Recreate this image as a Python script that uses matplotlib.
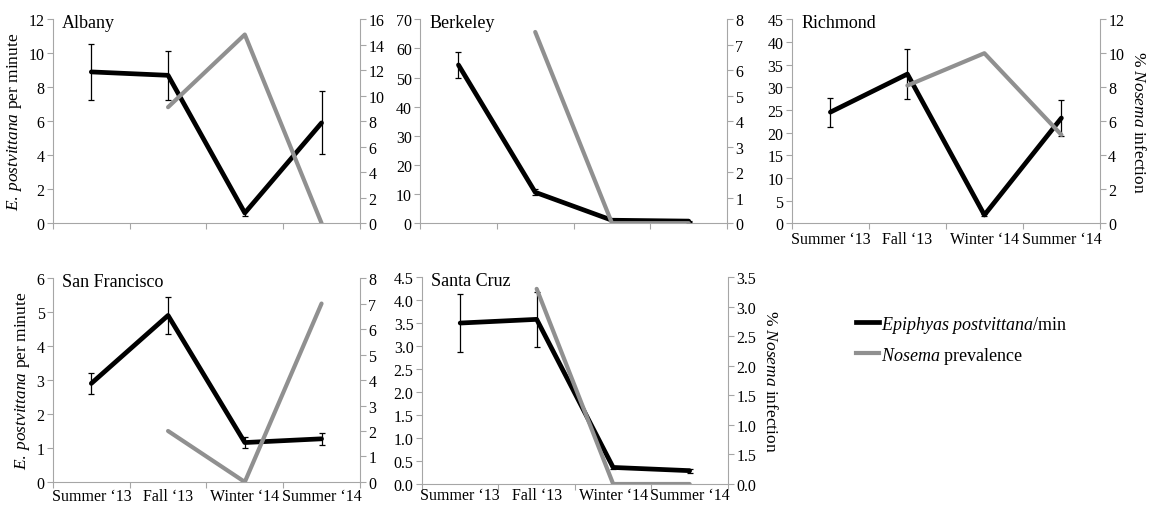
import numpy as np
import matplotlib.pyplot as plt
from matplotlib.lines import Line2D

plt.rcParams['font.family'] = ['Liberation Serif', 'DejaVu Serif']
plt.rcParams['mathtext.fontset'] = 'custom'
plt.rcParams['mathtext.rm'] = 'Liberation Serif'
plt.rcParams['mathtext.it'] = 'Liberation Serif:italic'
plt.rcParams['font.size'] = 11

seasons = ['Summer \u201813', 'Fall \u201813', 'Winter \u201814', 'Summer \u201814']

# E. postvittana per minute (mean, s.e.) and % Nosema infection per site
albany_rate = [8.9, 8.7, 0.6, 5.9]
albany_err = [1.65, 1.45, 0.15, 1.85]
albany_nosema = [np.nan, 9.1, 14.8, 0.0]

berkeley_rate = [54.3, 10.6, 1.0, 0.7]
berkeley_err = [4.5, 1.0, 0.2, 0.2]
berkeley_nosema = [np.nan, 7.5, 0.0, 0.0]

richmond_rate = [24.5, 32.9, 1.8, 23.2]
richmond_err = [3.2, 5.6, 0.3, 3.9]
richmond_nosema = [np.nan, 8.1, 10.0, 5.2]

sf_rate = [2.9, 4.9, 1.16, 1.27]
sf_err = [0.3, 0.55, 0.17, 0.18]
sf_nosema = [np.nan, 2.0, 0.0, 7.0]

sc_rate = [3.5, 3.58, 0.36, 0.29]
sc_err = [0.63, 0.6, 0.03, 0.04]
sc_nosema = [np.nan, 3.3, 0.0, 0.0]

# axis ranges: (left max, left step, right max, right step)
albany_axes = (12, 2, 16, 2)
berkeley_axes = (70, 10, 8, 1)
richmond_axes = (45, 5, 12, 2)
sf_axes = (6, 1, 8, 1)
sc_axes = (4.5, 0.5, 3.5, 0.5)
sc_right_labels = ['0.0', '1.5', '1.0', '1.5', '2.0', '2.5', '3.0', '3.5']

spine_col = '#a6a6a6'
black = '#000000'
grey = '#909090'

fig = plt.figure(figsize=(11.51, 5.06), dpi=100)


def panel(rect, name, rate, err, nosema, lims, xlabels=False, ylab=False,
          rlab=False, fmt='%g', rlabels=None, xpad=6):
    ax = fig.add_axes(rect)
    x = np.arange(len(seasons))
    ax.errorbar(x, rate, yerr=err, color=black, lw=3.4, ecolor=black,
                elinewidth=0.9, capsize=2.5, capthick=0.9,
                solid_joinstyle='round', solid_capstyle='round', zorder=3)
    ax.set_xlim(-0.5, 3.5)
    ax.set_ylim(0, lims[0])
    ax.set_yticks(np.arange(0, lims[0] + lims[1] / 2, lims[1]))
    ax.set_yticklabels([fmt % v for v in ax.get_yticks()], fontsize=11.5)
    # tick marks sit between the seasons, labels under each season
    ax.set_xticks(np.arange(-0.5, 4, 1))
    ax.set_xticklabels([])
    ax.set_xticks(x, minor=True)
    ax.tick_params(axis='x', which='minor', length=0, pad=xpad)
    if xlabels:
        ax.set_xticklabels(seasons, minor=True, fontsize=11.5)
    for s in ['top', 'right']:
        ax.spines[s].set_visible(False)
    for s in ['left', 'bottom']:
        ax.spines[s].set_color(spine_col)
    ax.tick_params(axis='both', which='major', direction='out', length=4,
                   color=spine_col, pad=2)
    ax.text(0.03, 0.985, name, transform=ax.transAxes, va='center',
            ha='left', fontsize=13)
    if ylab:
        ax.set_ylabel(r'$\it{E.\:postvittana}$ per minute',
                      fontsize=12.5, labelpad=3)

    ax2 = ax.twinx()
    ax2.plot(x, nosema, color=grey, lw=3.0, solid_joinstyle='round',
             solid_capstyle='round', zorder=3)
    ax2.set_ylim(0, lims[2])
    ax2.set_yticks(np.arange(0, lims[2] + lims[3] / 2, lims[3]))
    if rlabels is not None:
        ax2.set_yticklabels(rlabels, fontsize=11.5)
    else:
        ax2.set_yticklabels([fmt % v for v in ax2.get_yticks()],
                            fontsize=11.5)
    for s in ['top', 'left', 'bottom']:
        ax2.spines[s].set_visible(False)
    ax2.spines['right'].set_color(spine_col)
    ax2.tick_params(axis='y', direction='out', length=4, color=spine_col,
                    pad=2)
    if rlab:
        ax2.set_ylabel(r'% $\it{Nosema}$ infection', rotation=270,
                       fontsize=12.5, labelpad=16)
    return ax, ax2


panel([0.046, 0.557, 0.2667, 0.403], 'Albany', albany_rate, albany_err,
      albany_nosema, albany_axes, ylab=True)
panel([0.365, 0.557, 0.2667, 0.403], 'Berkeley', berkeley_rate, berkeley_err,
      berkeley_nosema, berkeley_axes)
panel([0.688, 0.557, 0.2676, 0.403], 'Richmond', richmond_rate, richmond_err,
      richmond_nosema, richmond_axes, xlabels=True, rlab=True)
panel([0.046, 0.0455, 0.2667, 0.403], 'San Francisco', sf_rate, sf_err,
      sf_nosema, sf_axes, xlabels=True, ylab=True, xpad=4)
panel([0.3666, 0.0415, 0.2658, 0.409], 'Santa Cruz', sc_rate, sc_err,
      sc_nosema, sc_axes, xlabels=True, rlab=True, fmt='%.1f',
      rlabels=sc_right_labels, xpad=2)

handles = [Line2D([], [], color=black, lw=3.4),
           Line2D([], [], color=grey, lw=3.0)]
labels = [r'$\it{Epiphyas}$ $\it{postvittana}$/min',
          r'$\it{Nosema}$ prevalence']
fig.legend(handles, labels, loc='upper left', bbox_to_anchor=(0.744, 0.378),
           frameon=False, fontsize=13, handlelength=1.25, handletextpad=0.1,
           labelspacing=0.55, borderpad=0, borderaxespad=0)

fig.savefig('out.png', dpi=100)
